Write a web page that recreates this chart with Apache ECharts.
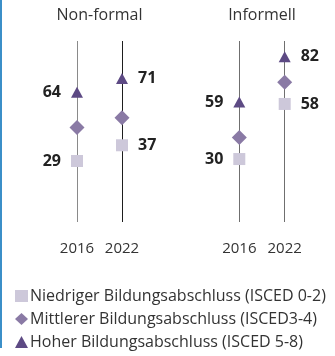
<!DOCTYPE html>
<html><head><meta charset="utf-8">
<script src="https://cdn.jsdelivr.net/npm/echarts@6/dist/echarts.min.js"></script>
<style>html,body{margin:0;padding:0;background:#fff}#c{width:335px;height:356px}</style>
</head><body><div id="c"></div>
<script>
const years = ['2016', '2022'];
const panels = ['Non-formal', 'Informell'];
const seriesNames = ['Niedriger Bildungsabschluss (ISCED 0-2)', 'Mittlerer Bildungsabschluss (ISCED3-4)', 'Hoher Bildungsabschluss (ISCED 5-8)'];
const nonformalLow = [29, 37];
const nonformalMid = [46, 51];
const nonformalHigh = [64, 71];
const informellLow = [30, 58];
const informellMid = [41, 69];
const informellHigh = [59, 82];

const FONT = '"Open Sans", sans-serif';
const colors = ['#cdc8da', '#8a7aa5', '#5d4a84'];
const symbols = ['rect', 'diamond', 'triangle'];
const sizes = [[12, 12], [15, 15], [12, 11]];
const showLabel = [true, false, true];

const panelData = [[nonformalLow, nonformalMid, nonformalHigh], [informellLow, informellMid, informellHigh]];
const lineColors = [['#8a8a8a', '#1e1e1e'], ['#6f6f6f', '#6f6f6f']];
const grids = [{left: 54.5, width: 90, top: 41, height: 181}, {left: 216.6, width: 90.8, top: 41, height: 181}];

const series = [];
panelData.forEach((pd, g) => {
  pd.forEach((vals, s) => {
    const item = {
      name: seriesNames[s], type: 'scatter', xAxisIndex: g, yAxisIndex: g,
      symbol: symbols[s], symbolSize: sizes[s], itemStyle: {color: colors[s], opacity: 1},
      z: 3 + s,
      data: vals.map((v, i) => ({
        value: [years[i], v],
        label: {show: showLabel[s], position: i === 0 ? 'left' : 'right', distance: 10,
          formatter: String(v), color: '#222', fontWeight: 'bold', fontSize: 16, fontFamily: FONT}
      }))
    };
    if (s === 0) {
      item.markLine = {silent: true, symbol: 'none', label: {show: false}, z: 1,
        data: years.map((y, i) => ({xAxis: y, lineStyle: {color: lineColors[g][i], width: 1, type: 'solid'}}))};
    }
    series.push(item);
  });
});

const chart = echarts.init(document.getElementById('c'), null, {renderer: 'canvas'});
chart.setOption({
  animation: false,
  grid: grids,
  xAxis: grids.map((_, g) => ({type: 'category', gridIndex: g, data: years,
    axisLine: {show: false}, axisTick: {show: false}, splitLine: {show: false},
    axisLabel: {margin: 19, color: '#333', fontSize: 15, fontFamily: FONT}})),
  yAxis: grids.map((_, g) => ({type: 'value', gridIndex: g, min: -2, max: 90, show: false})),
  legend: {orient: 'vertical', left: 10, top: 283, itemWidth: 13, itemHeight: 12, itemGap: 7,
    textStyle: {fontSize: 16, color: '#333', fontFamily: FONT, padding: [0, 0, 0, -3]},
    data: seriesNames.map((n, i) => ({name: n, icon: symbols[i]}))},
  graphic: [
    {type: 'rect', left: 0, top: 0, shape: {width: 2, height: 348}, style: {fill: '#3b8fc8'}},
    {type: 'text', x: 99.5, y: 15, style: {text: panels[0], align: 'center', verticalAlign: 'middle', fill: '#333', font: '16px ' + FONT}},
    {type: 'text', x: 262, y: 15, style: {text: panels[1], align: 'center', verticalAlign: 'middle', fill: '#333', font: '16px ' + FONT}}
  ],
  series: series
});
</script></body></html>
